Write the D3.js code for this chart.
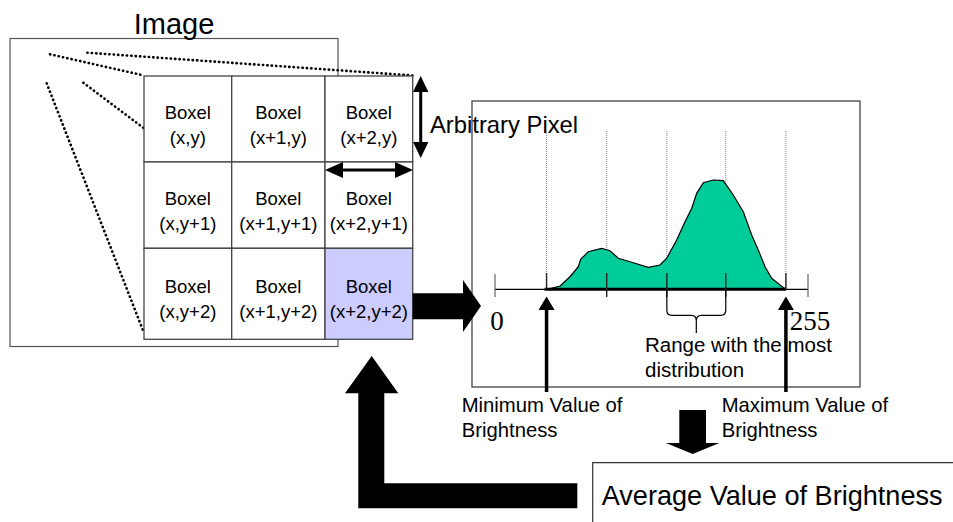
<!DOCTYPE html>
<html>
<head>
<meta charset="utf-8">
<script src="https://cdn.jsdelivr.net/npm/d3@7"></script>
<style>
  body { margin: 0; background: #fff; }
  svg { display: block; }
  text { font-family: "Liberation Sans", Arial, sans-serif; fill: #000; }
  .serif { font-family: "Liberation Serif", "Times New Roman", serif; }
</style>
</head>
<body>
<svg id="chart" width="953" height="522"></svg>
<script>
// histogram outline (brightness 0-255, relative count 0-100)
const histBrightness = [42.6, 53, 61.1, 67.9, 69.8, 76, 86.9, 93.7, 100.5, 112.7, 124.9, 134.4, 139.9,
  148, 154.8, 160.3, 164.3, 169.7, 177.9, 186, 194.1, 202.3, 209.1, 214.5, 220, 225.4, 232.2, 237.1];
const histCount = [0, 3, 11.5, 20.7, 27.4, 34.4, 37.5, 35.3, 28.4, 24.3, 20.1, 22.2, 28.4,
  45.1, 61.8, 74.1, 87.8, 97.5, 100, 99.4, 86.3, 71, 49.7, 36, 20.7, 10.1, 3.9, 0];
const gridBrightness = [42, 91, 140, 188, 237];
const axisLabels = ["0", "255"];
const rangeBrace = [140, 188];
const minMax = [42, 237];

// boxel grid labels
const colLabels = ["x", "x+1", "x+2"];
const rowLabels = ["y", "y+1", "y+2"];
const colEdges = [144, 231.7, 325, 412.7];
const rowEdges = [76, 162, 248.3, 339.3];

const svg = d3.select('#chart');

// ---- left: image + boxel grid ----
svg.append('rect')
    .attr('x', 10).attr('y', 38.5).attr('width', 328).attr('height', 308)
    .attr('fill', 'none').attr('stroke', '#555').attr('stroke-width', 1.2);

svg.append('text').attr('x', 174).attr('y', 33.5)
    .attr('text-anchor', 'middle').style('font-size', '29px').text('Image');

// dotted perspective lines
const dotted = [
    [[50, 54.3], [144, 75.5]],
    [[87.3, 52.7], [412.7, 75.5]],
    [[46.7, 83.3], [144, 333]],
    [[83.3, 82.7], [144, 128.3]]
];
svg.append('g').selectAll('line')
    .data(dotted)
    .enter()
    .append('line')
    .attr('x1', d => d[0][0]).attr('y1', d => d[0][1])
    .attr('x2', d => d[1][0]).attr('y2', d => d[1][1])
    .attr('stroke', '#000').attr('stroke-width', 2.6)
    .attr('stroke-linecap', 'round')
    .attr('stroke-dasharray', '0.3 4.1');

const cells = [];
rowLabels.forEach((r, ri) => colLabels.forEach((c, ci) => cells.push({ r, c, ri, ci })));

const cell = svg.append('g').selectAll('g')
    .data(cells)
    .enter()
    .append('g');

cell.append('rect')
    .attr('x', d => colEdges[d.ci])
    .attr('y', d => rowEdges[d.ri])
    .attr('width', d => colEdges[d.ci + 1] - colEdges[d.ci])
    .attr('height', d => rowEdges[d.ri + 1] - rowEdges[d.ri])
    .attr('fill', d => (d.ri === 2 && d.ci === 2) ? '#ccccff' : '#fff')
    .attr('stroke', '#444').attr('stroke-width', 1.3);

cell.each(function(d) {
    const cx = (colEdges[d.ci] + colEdges[d.ci + 1]) / 2;
    const cy = (rowEdges[d.ri] + rowEdges[d.ri + 1]) / 2;
    const g = d3.select(this);
    g.append('text').attr('x', cx).attr('y', cy - 0.5)
        .attr('text-anchor', 'middle').style('font-size', '18.5px').text('Boxel');
    g.append('text').attr('x', cx).attr('y', cy + 24.5)
        .attr('text-anchor', 'middle').style('font-size', '18.5px')
        .text('(' + d.c + ',' + d.r + ')');
});

// arrow helpers
function line(x1, y1, x2, y2, w) {
    svg.append('line').attr('x1', x1).attr('y1', y1).attr('x2', x2).attr('y2', y2)
        .attr('stroke', '#000').attr('stroke-width', w);
}
function poly(pts) {
    svg.append('polygon').attr('points', pts.map(p => p.join(',')).join(' ')).attr('fill', '#000');
}

// double arrows marking one pixel
line(420.7, 88, 420.7, 146, 3);
poly([[420.7, 76], [413, 92], [428.4, 92]]);
poly([[420.7, 158], [413, 142], [428.4, 142]]);
line(338, 170, 400, 170, 3);
poly([[325, 170], [343, 162], [343, 178]]);
poly([[413, 170], [395, 162], [395, 178]]);

svg.append('text').attr('x', 430).attr('y', 133)
    .style('font-size', '23.8px').text('Arbitrary Pixel');

// ---- histogram panel ----
svg.append('rect')
    .attr('x', 472).attr('y', 101).attr('width', 388).attr('height', 286)
    .attr('fill', 'none').attr('stroke', '#333').attr('stroke-width', 1.2);

const x = d3.scaleLinear().domain([0, 255]).range([495, 808]);
const y = d3.scaleLinear().domain([0, 100]).range([289.3, 180]);

svg.append('g').selectAll('line')
    .data(gridBrightness)
    .enter()
    .append('line')
    .attr('x1', d => x(d)).attr('x2', d => x(d))
    .attr('y1', 131).attr('y2', 289)
    .attr('stroke', '#888').attr('stroke-width', 1)
    .attr('stroke-dasharray', '1 1');

const area = d3.area()
    .x((d, i) => x(histBrightness[i]))
    .y0(y(0))
    .y1(d => y(d));

svg.append('path')
    .datum(histCount)
    .attr('d', area)
    .attr('fill', '#00cc99')
    .attr('stroke', '#000')
    .attr('stroke-width', 1.2);

// axis
line(x(0), y(0), x(255), y(0), 1.2);
line(x(minMax[0]) - 2, y(0), x(minMax[1]), y(0), 3);
svg.append('g').selectAll('line')
    .data([0, 255])
    .enter()
    .append('line')
    .attr('x1', d => x(d)).attr('x2', d => x(d))
    .attr('y1', 274).attr('y2', 297)
    .attr('stroke', '#666').attr('stroke-width', 1.2);
svg.append('g').selectAll('line')
    .data(gridBrightness)
    .enter()
    .append('line')
    .attr('x1', d => x(d)).attr('x2', d => x(d))
    .attr('y1', 273).attr('y2', (d, i) => (i === 0 || i === gridBrightness.length - 1) ? 289 : 297)
    .attr('stroke', '#222').attr('stroke-width', 1.4);

svg.append('g').selectAll('text')
    .data(axisLabels)
    .enter()
    .append('text')
    .attr('class', 'serif')
    .attr('x', d => x(+d) + 2)
    .attr('y', 330)
    .attr('text-anchor', 'middle')
    .style('font-size', '27px')
    .text(d => d);

// brace under the range with the most distribution
const bl = x(rangeBrace[0]), br = x(rangeBrace[1]), bm = (bl + br) / 2;
svg.append('path')
    .attr('d', `M${bl},290 V310 Q${bl},315.3 ${bl + 5},315.3 H${bm - 5} Q${bm},315.3 ${bm},321 V333
                M${br},290 V310 Q${br},315.3 ${br - 5},315.3 H${bm + 5} Q${bm},315.3 ${bm},321`)
    .attr('fill', 'none').attr('stroke', '#000').attr('stroke-width', 1.2);

svg.append('text').attr('x', 645).attr('y', 351.7).style('font-size', '20.5px').text('Range with the most');
svg.append('text').attr('x', 645).attr('y', 377).style('font-size', '20.5px').text('distribution');

// min / max arrows
minMax.forEach(v => {
    line(x(v), 308, x(v), 392, 3.5);
    poly([[x(v), 296.5], [x(v) - 8, 310], [x(v) + 8, 310]]);
});

svg.append('text').attr('x', 461.7).attr('y', 411.7).style('font-size', '20.3px').text('Minimum Value of');
svg.append('text').attr('x', 461.7).attr('y', 437).style('font-size', '20.3px').text('Brightness');
svg.append('text').attr('x', 721.7).attr('y', 411.7).style('font-size', '20.3px').text('Maximum Value of');
svg.append('text').attr('x', 721.7).attr('y', 437).style('font-size', '20.3px').text('Brightness');

// block arrows
poly([[412.7, 293.3], [463, 293.3], [463, 280], [481, 306], [463, 332], [463, 319.3], [412.7, 319.3]]);
poly([[679.3, 410], [706, 410], [706, 443], [719.3, 443], [692.7, 454], [666, 443], [679.3, 443]]);
poly([[371.7, 356], [398.3, 393.3], [384.3, 393.3], [384.3, 483.3], [577.3, 483.3], [577.3, 508.3],
      [358.3, 508.3], [358.3, 393.3], [345, 393.3]]);

// average box
svg.append('path')
    .attr('d', 'M592.7,522 V462.7 H953')
    .attr('fill', 'none').attr('stroke', '#333').attr('stroke-width', 1.2);
svg.append('text').attr('x', 601.7).attr('y', 505)
    .style('font-size', '27.1px').text('Average Value of Brightness');
</script>
</body>
</html>
